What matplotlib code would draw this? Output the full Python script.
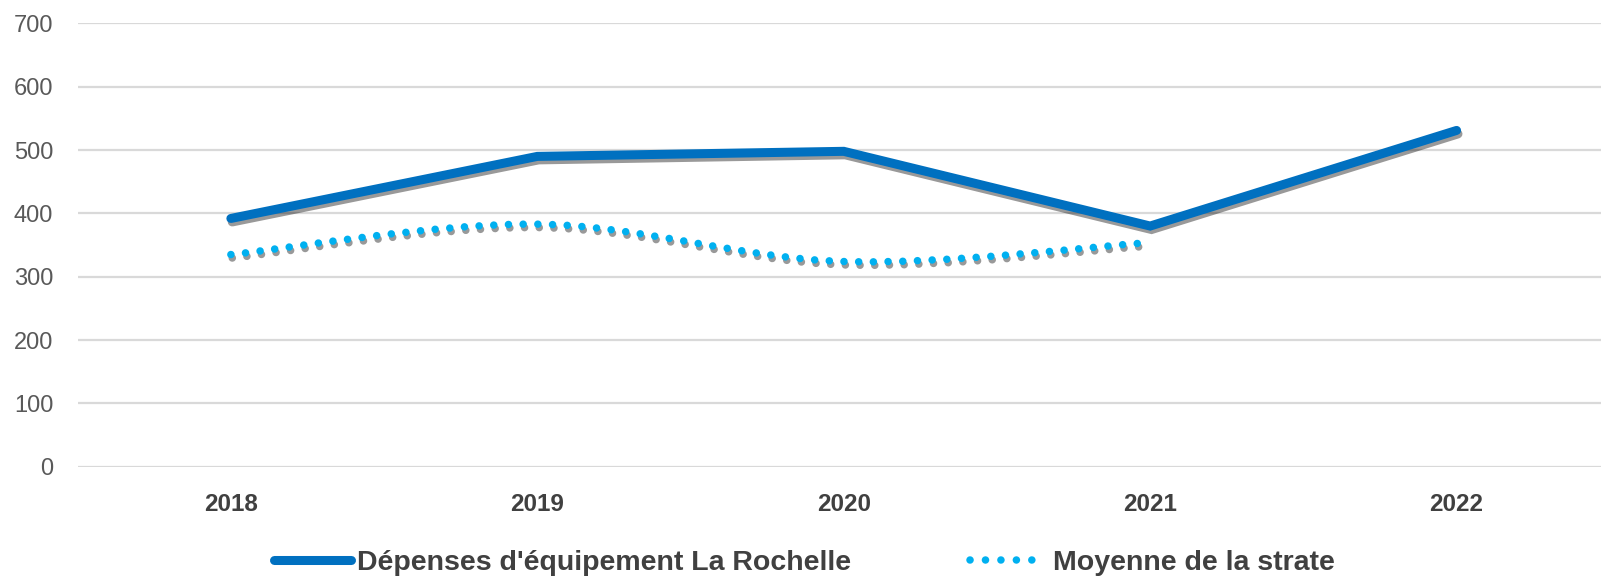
import matplotlib
matplotlib.use('Agg')
import matplotlib.pyplot as plt
import matplotlib.patheffects as pe
from matplotlib.path import Path
from matplotlib.patches import PathPatch
from matplotlib.lines import Line2D

years = ['2018', '2019', '2020', '2021', '2022']
depenses = [392, 490, 498, 380, 531]   # Dépenses d'équipement La Rochelle
moyenne = [335, 383, 324, 354]          # Moyenne de la strate (no 2022 value)
yticks = [0, 100, 200, 300, 400, 500, 600, 700]

blue = '#0070C0'
light = '#00B0F0'

plt.rcParams['font.family'] = ['Liberation Sans', 'DejaVu Sans']

fig = plt.figure(figsize=(16.01, 5.84), dpi=100)
ax = fig.add_axes([0.0485, 0.2009, 0.957, 0.759])

shadow = [pe.SimpleLineShadow(offset=(1.0, -2.5), shadow_color='black', alpha=0.4),
          pe.Normal()]

x = list(range(len(years)))
ax.plot(x, depenses, color=blue, lw=6.5, solid_capstyle='round',
        solid_joinstyle='miter', path_effects=shadow, zorder=3)


# excel style smoothed line, drawn as bezier path through the points
def smooth_path(xs, ys, t=1/6):
    pts = list(zip(xs, ys))
    verts = [pts[0]]
    codes = [Path.MOVETO]
    n = len(pts)
    for i in range(n - 1):
        p0 = pts[i - 1] if i > 0 else pts[i]
        p1 = pts[i]
        p2 = pts[i + 1]
        p3 = pts[i + 2] if i + 2 < n else pts[i + 1]
        c1 = (p1[0] + (p2[0] - p0[0]) * t, p1[1] + (p2[1] - p0[1]) * t)
        c2 = (p2[0] - (p3[0] - p1[0]) * t, p2[1] - (p3[1] - p1[1]) * t)
        verts += [c1, c2, p2]
        codes += [Path.CURVE4] * 3
    return Path(verts, codes)


dots = (0, (0.01, 1.95))
patch = PathPatch(smooth_path(x[:len(moyenne)], moyenne), fill=False,
                  edgecolor=light, lw=5.4, linestyle=dots, capstyle='round',
                  path_effects=shadow, zorder=3)
ax.add_patch(patch)

ax.set_xlim(-0.5, 4.5)
ax.set_ylim(0, 700)
ax.set_yticks(yticks)
ax.set_xticks(x)
ax.set_xticklabels(years, fontweight='bold', color='#404040', fontsize=17.5)
ax.tick_params(axis='y', length=0, pad=17.5, labelsize=17, labelcolor='#595959')
ax.tick_params(axis='x', length=0, pad=19)
ax.grid(axis='y', color='#D9D9D9', lw=1.6)
ax.set_axisbelow(True)
for s in ax.spines.values():
    s.set_visible(False)

handles = [Line2D([], [], color=blue, lw=6.5, solid_capstyle='round'),
           Line2D([], [], color=light, lw=5.4, linestyle=(0, (0.01, 2.05)),
                  dash_capstyle='round')]
labels = ["Dépenses d'équipement La Rochelle", 'Moyenne de la strate']
fig.legend(handles, labels, loc='center', bbox_to_anchor=(0.5025, 1 - 563 / 584),
           ncol=2, frameon=False, handlelength=2.7, handletextpad=0.2,
           columnspacing=4.2, prop={'size': 20.5, 'weight': 'bold'}, labelcolor='#404040')

fig.savefig('out.png', dpi=100)
